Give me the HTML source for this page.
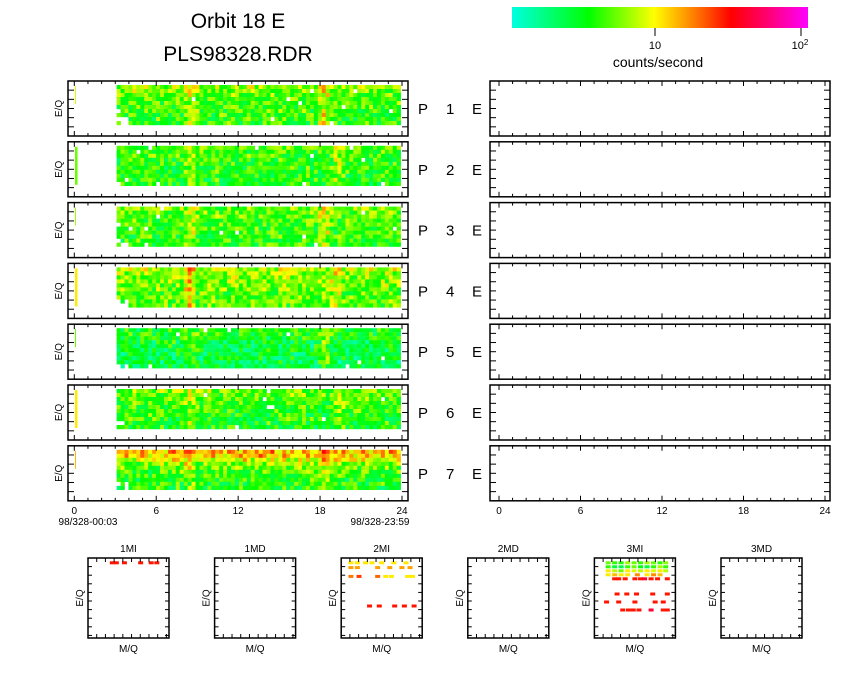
<!DOCTYPE html>
<html><head><meta charset="utf-8">
<style>
html,body{margin:0;padding:0;background:#fff;}
svg{display:block;font-family:"Liberation Sans",sans-serif;}
</style></head>
<body>
<svg id="c" width="850" height="680" viewBox="0 0 850 680"></svg>
<script>
// ---- data ----
const panelNames = ['P 1 E','P 2 E','P 3 E','P 4 E','P 5 E','P 6 E','P 7 E'];
const xTicks = [0,6,12,18,24];
const timeStart = 3.1, timeEnd = 23.9, colCount = 72;
// mean level (0..1 colour scale) per energy row, top to bottom
const rowLevels = [
  [0.38,0.36,0.34,0.32,0.31,0.30,0.29,0.29,0.28,0.28],
  [0.32,0.30,0.29,0.28,0.27,0.27,0.27,0.26,0.26,0.26],
  [0.35,0.34,0.33,0.31,0.30,0.29,0.29,0.28,0.28,0.28],
  [0.41,0.39,0.37,0.36,0.35,0.34,0.33,0.32,0.32,0.32],
  [0.27,0.26,0.24,0.22,0.21,0.20,0.19,0.19,0.18,0.18],
  [0.35,0.34,0.32,0.30,0.29,0.28,0.27,0.27,0.26,0.26],
  [0.56,0.53,0.45,0.37,0.33,0.30,0.28,0.27,0.26,0.26]
];
// hot stripes [hour, boost]
const stripes = [
  [[8.6,0.14],[18.3,0.18]],
  [[8.5,0.12],[19.3,0.12]],
  [[8.6,0.12],[18.3,0.17]],
  [[8.5,0.2],[19.1,0.12]],
  [[8.6,0.1],[18.4,0.15]],
  [[8.6,0.13],[19.3,0.11]],
  [[8.5,0.1],[18.4,0.11]]
];
const earlyStrip = [0.45,0.35,0.40,0.50,0.35,0.50,0.55];
const smallNames = ['1MI','1MD','2MI','2MD','3MI','3MD'];
// small panel points: [m (0..1), e (0..1 from top), level]
const smallPoints = [
  [[0.30,0.06,0.72],[0.35,0.06,0.72],[0.45,0.06,0.72],[0.65,0.06,0.72],[0.78,0.06,0.72],[0.85,0.06,0.72]],
  [],
  [[0.12,0.06,0.5],[0.2,0.06,0.5],[0.3,0.06,0.5],[0.38,0.06,0.5],[0.5,0.06,0.5],[0.65,0.06,0.5],[0.8,0.06,0.5],
   [0.12,0.12,0.58],[0.2,0.12,0.58],[0.45,0.12,0.58],[0.6,0.12,0.58],[0.75,0.12,0.58],[0.85,0.12,0.58],
   [0.12,0.23,0.62],[0.22,0.23,0.68],[0.45,0.23,0.64],[0.55,0.23,0.5],[0.62,0.23,0.5],[0.82,0.23,0.5],[0.88,0.23,0.5],
   [0.35,0.6,0.72],[0.47,0.6,0.72],[0.66,0.6,0.72],[0.78,0.6,0.72],[0.9,0.6,0.72]],
  [],
  [[0.17,0.06,0.35],[0.25,0.06,0.3],[0.33,0.06,0.28],[0.41,0.06,0.4],[0.49,0.06,0.35],[0.57,0.06,0.3],[0.65,0.06,0.4],[0.73,0.06,0.35],[0.81,0.06,0.3],[0.88,0.06,0.38],
   [0.17,0.11,0.3],[0.25,0.11,0.2],[0.33,0.11,0.18],[0.41,0.11,0.3],[0.49,0.11,0.35],[0.57,0.11,0.25],[0.65,0.11,0.2],[0.73,0.11,0.3],[0.81,0.11,0.4],[0.88,0.11,0.3],
   [0.17,0.16,0.5],[0.25,0.16,0.42],[0.33,0.16,0.35],[0.41,0.16,0.5],[0.49,0.16,0.45],[0.57,0.16,0.42],[0.65,0.16,0.5],[0.73,0.16,0.45],[0.81,0.16,0.5],[0.88,0.16,0.42],
   [0.17,0.21,0.5],[0.25,0.21,0.55],[0.33,0.21,0.5],[0.41,0.21,0.5],[0.53,0.21,0.6],[0.65,0.21,0.5],[0.73,0.21,0.6],[0.81,0.21,0.55],
   [0.25,0.26,0.72],[0.3,0.26,0.72],[0.38,0.26,0.72],[0.5,0.26,0.72],[0.57,0.26,0.72],[0.62,0.26,0.8],[0.7,0.26,0.72],[0.78,0.26,0.72],[0.9,0.26,0.72],
   [0.28,0.45,0.72],[0.4,0.45,0.72],[0.52,0.45,0.72],[0.72,0.45,0.72],[0.9,0.45,0.72],
   [0.15,0.55,0.72],[0.3,0.55,0.72],[0.5,0.55,0.72],[0.75,0.55,0.72],[0.85,0.55,0.72],
   [0.35,0.65,0.72],[0.42,0.65,0.72],[0.48,0.65,0.72],[0.55,0.65,0.72],[0.7,0.65,0.8],[0.85,0.65,0.72],[0.9,0.65,0.72]],
  []
];
// ---- helpers ----
const NS='http://www.w3.org/2000/svg', svg=document.getElementById('c');
function mk(tag,attrs,parent){const e=document.createElementNS(NS,tag);for(const k in attrs)e.setAttribute(k,attrs[k]);(parent||svg).appendChild(e);return e;}
const stops=[[0,[0,255,224]],[0.26,[0,255,0]],[0.48,[255,255,0]],[0.6,[255,140,0]],[0.74,[255,0,0]],[0.86,[255,0,110]],[1,[255,0,255]]];
function cmap(v){v=Math.max(0,Math.min(1,v));for(let i=1;i<stops.length;i++){if(v<=stops[i][0]){const a=stops[i-1],b=stops[i],f=(v-a[0])/(b[0]-a[0]);return 'rgb('+a[1].map((c,j)=>Math.round(c+(b[1][j]-c)*f)).join(',')+')';}}return 'rgb(255,0,255)';}
function texture(i,j,p){let h=(i*374761393+j*668265263+p*2147483647)>>>0;h=(h^(h>>>13))*1274126177>>>0;return ((h>>>8)&1023)/1023-0.5;}
// ---- title & colorbar ----
let t=mk('text',{x:238,y:28,'font-size':21,'text-anchor':'middle'});t.textContent='Orbit 18 E';

t=mk('text',{x:238,y:61,'font-size':21,'text-anchor':'middle'});t.textContent='PLS98328.RDR';

const g=mk('linearGradient',{id:'cb'},mk('defs',{}));
stops.forEach(s=>mk('stop',{offset:s[0],'stop-color':cmap(s[0])},g));
let cb=mk('rect',{x:512,y:7,width:296,height:21,fill:'url(#cb)'});

mk('line',{x1:655,y1:28,x2:655,y2:36,stroke:'#000'});mk('line',{x1:801,y1:28,x2:801,y2:36,stroke:'#000'});
t=mk('text',{x:655,y:49,'font-size':11,'text-anchor':'middle'});t.textContent='10';

t=mk('text',{x:800,y:49,'font-size':11,'text-anchor':'middle'});t.innerHTML='10<tspan dy="-4" font-size="8">2</tspan>';

t=mk('text',{x:658,y:67,'font-size':14,'text-anchor':'middle'});t.textContent='counts/second';

// ---- panels ----
const pitch=60.8, ph=55;
function timeAxis(x0,x1){return h=>x0+(h/24)*(x1-x0);}
function frame(x,y,w,h,x0,x1,name){
  const gr=mk('g',{});
  
  mk('rect',{x:x,y:y,width:w,height:h,fill:'none',stroke:'#000','stroke-width':1.5},gr);
  const X=timeAxis(x0,x1);
  for(let k=0;k<=24;k++){const L=(k%6==0)?5:3,xx=X(k);
    mk('line',{x1:xx,y1:y+h,x2:xx,y2:y+h-L,stroke:'#000'},gr);mk('line',{x1:xx,y1:y,x2:xx,y2:y+L,stroke:'#000'},gr);}
  for(let k=1;k<=5;k++){const yy=y+k*h/6;
    mk('line',{x1:x,y1:yy,x2:x+6,y2:yy,stroke:'#000'},gr);mk('line',{x1:x+w,y1:yy,x2:x+w-6,y2:yy,stroke:'#000'},gr);}
  return gr;
}
for(let p=0;p<7;p++){
  const top=81+p*pitch;
  const X=timeAxis(74.3,402);
  const hm=mk('g',{});
  
  const cw=(timeEnd-timeStart)/colCount;
  for(let i=0;i<colCount;i++){
    const tt=timeStart+i*cw;
    let boost=0;stripes[p].forEach(s=>{const d=Math.abs(tt+cw/2-s[0]);if(d<cw*1.6)boost+=s[1]*(1-d/(cw*2.4));});
    for(let j=0;j<10;j++){
      if(i<3&&j>=8&&texture(i,j,p)>0)continue;
      const n=texture(i,j,p+1);
      if(n>0.49&&p!==6&&p!==3)continue;
      const n2=texture(j,i,p+7);
      const v=rowLevels[p][j]+n*0.26+n2*0.08+boost;
      const r=mk('rect',{x:X(tt).toFixed(2),y:top+4+j*4,width:(X(tt+cw)-X(tt)+0.3).toFixed(2),height:4.2,fill:cmap(v)},hm);
      
    }
  }
  if(p==1||p==3||p==5){
    const s=mk('rect',{x:75,y:top+5,width:2.5,height:38,fill:cmap(earlyStrip[p])});
    
  } else {
    const s=mk('rect',{x:75,y:top+5,width:1,height:18,fill:cmap(earlyStrip[p])});
    
  }
  frame(68,top,340,ph,74.3,402,'panel-left-p'+(p+1));
  frame(490,top,340,ph,499,825,'panel-right-p'+(p+1));
  t=mk('text',{x:62,y:top+ph/2,'font-size':10,'text-anchor':'middle',transform:'rotate(-90 62 '+(top+ph/2)+')'});t.textContent='E/Q';
  
  t=mk('text',{x:418,y:top+33,'font-size':15});t.textContent='P';
  
  t=mk('text',{x:446,y:top+33,'font-size':15});t.textContent=panelNames[p].split(' ')[1];
  
  t=mk('text',{x:472,y:top+33,'font-size':15});t.textContent='E';
  
}
const lastBottom=81+6*pitch+ph;
xTicks.forEach(h=>{
  let a=mk('text',{x:timeAxis(74.3,402)(h),y:lastBottom+13,'font-size':10,'text-anchor':'middle'});a.textContent=h;
  
  a=mk('text',{x:timeAxis(499,825)(h),y:lastBottom+13,'font-size':10,'text-anchor':'middle'});a.textContent=h;
  
});
t=mk('text',{x:88,y:lastBottom+24,'font-size':10,'text-anchor':'middle'});t.textContent='98/328-00:03';

t=mk('text',{x:380,y:lastBottom+24,'font-size':10,'text-anchor':'middle'});t.textContent='98/328-23:59';

// ---- small panels ----
for(let k=0;k<6;k++){
  const x=88+k*126.6,y=558,w=81,h=80;
  const gr=mk('g',{});
  
  smallPoints[k].forEach(pt=>{
    const r=mk('rect',{x:x+pt[0]*w-2.5,y:y+pt[1]*h-1.5,width:5,height:3,fill:cmap(pt[2])},gr);
    
  });
  mk('rect',{x:x,y:y,width:w,height:h,fill:'none',stroke:'#000','stroke-width':1.5},gr);
  for(let i=1;i<10;i++){const xx=x+i*w/9.3;
    mk('line',{x1:xx,y1:y,x2:xx,y2:y+4,stroke:'#000'},gr);mk('line',{x1:xx,y1:y+h,x2:xx,y2:y+h-4,stroke:'#000'},gr);
    const yy=y+i*h/9.3;
    mk('line',{x1:x,y1:yy,x2:x+4,y2:yy,stroke:'#000'},gr);mk('line',{x1:x+w,y1:yy,x2:x+w-4,y2:yy,stroke:'#000'},gr);}
  t=mk('text',{x:x+w/2,y:y-6,'font-size':10,'text-anchor':'middle'},gr);t.textContent=smallNames[k];
  
  t=mk('text',{x:x+w/2,y:y+h+14,'font-size':10,'text-anchor':'middle'},gr);t.textContent='M/Q';
  
  t=mk('text',{x:x-5,y:y+h/2,'font-size':10,'text-anchor':'middle',transform:'rotate(-90 '+(x-5)+' '+(y+h/2)+')'},gr);t.textContent='E/Q';
  
}
</script>
</body></html>
